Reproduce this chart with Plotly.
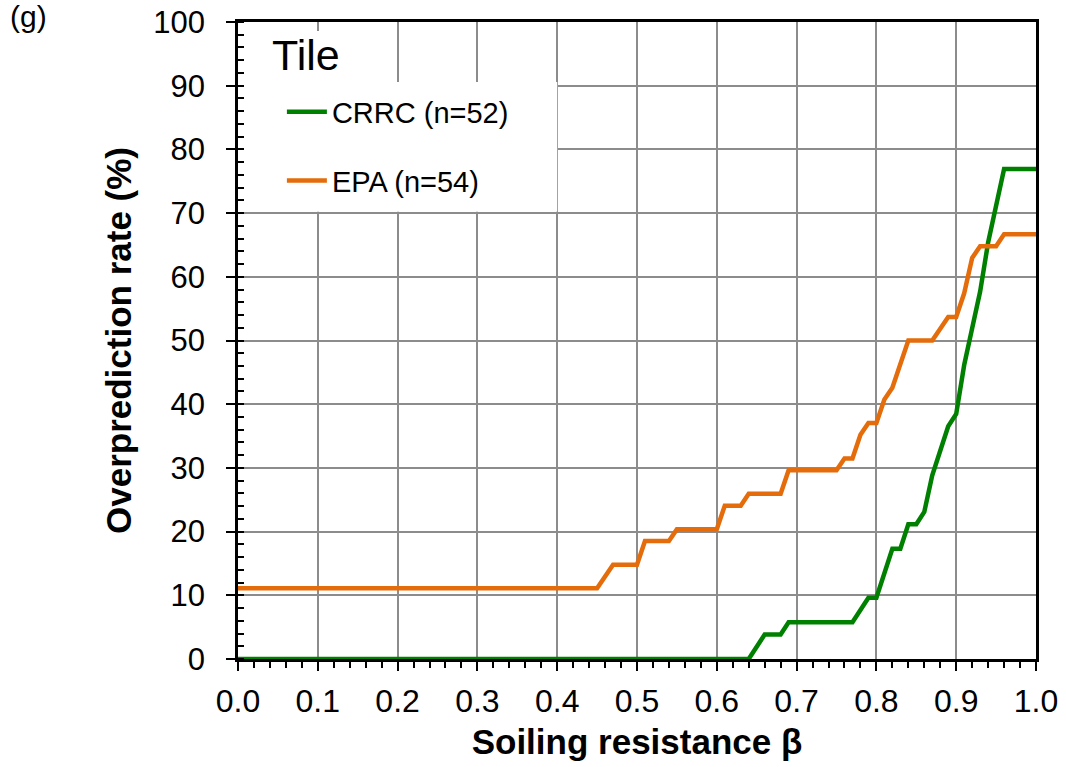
import plotly.graph_objects as go

# Step-curve corner points
crrc_x = [0.00, 0.64, 0.66, 0.68, 0.69, 0.77, 0.79, 0.80, 0.82, 0.83, 0.84, 0.85,
          0.86, 0.87, 0.88, 0.89, 0.90, 0.91, 0.92, 0.93, 0.94, 0.95, 0.96, 1.00]
crrc_y = [0, 0, 3.85, 3.85, 5.77, 5.77, 9.62, 9.62, 17.31, 17.31, 21.15, 21.15,
          23.08, 28.85, 32.69, 36.54, 38.46, 46.15, 51.92, 57.69, 65.38, 71.15, 76.92, 76.92]

epa_x = [0.00, 0.45, 0.47, 0.50, 0.51, 0.54, 0.55, 0.60, 0.61, 0.63, 0.64, 0.68,
         0.69, 0.75, 0.76, 0.77, 0.78, 0.79, 0.80, 0.81, 0.82, 0.83, 0.84, 0.87,
         0.89, 0.90, 0.91, 0.92, 0.93, 0.95, 0.96, 1.00]
epa_y = [11.11, 11.11, 14.81, 14.81, 18.52, 18.52, 20.37, 20.37, 24.07, 24.07, 25.93, 25.93,
         29.63, 29.63, 31.48, 31.48, 35.19, 37.04, 37.04, 40.74, 42.59, 46.30, 50.00, 50.00,
         53.70, 53.70, 57.41, 62.96, 64.81, 64.81, 66.67, 66.67]

series_names = ["CRRC (n=52)", "EPA (n=54)"]
series_colors = ["#008000", "#E46C0A"]

x_ticks = [0.0, 0.1, 0.2, 0.3, 0.4, 0.5, 0.6, 0.7, 0.8, 0.9, 1.0]
y_ticks = [0, 10, 20, 30, 40, 50, 60, 70, 80, 90, 100]

FONT = "Liberation Sans, Arial, sans-serif"

fig = go.Figure()
fig.add_trace(go.Scatter(x=crrc_x, y=crrc_y, mode="lines", name=series_names[0],
                         line=dict(color=series_colors[0], width=4.5),
                         legendgroup="a"))
fig.add_trace(go.Scatter(x=epa_x, y=epa_y, mode="lines", name=series_names[1],
                         line=dict(color=series_colors[1], width=4.5),
                         legendgroup="b"))

# white boxes (text box and legend background) hiding the gridlines
fig.add_shape(type="rect", xref="x", yref="y", x0=0.0, x1=0.4, y0=70.2, y1=90.6,
              fillcolor="white", line=dict(width=0), layer="between")
fig.add_shape(type="rect", xref="x", yref="y", x0=0.03, x1=0.18, y0=89, y1=98.6,
              fillcolor="white", line=dict(width=0), layer="between")

fig.add_annotation(text="Tile", xref="x", yref="y", x=0.04, y=94.8, xanchor="left",
                   yanchor="middle", showarrow=False,
                   font=dict(family=FONT, size=43, color="black"))
fig.add_annotation(text="(g)", xref="paper", yref="paper", x=-0.288, y=1.037,
                   xanchor="left", yanchor="top", showarrow=False,
                   font=dict(family=FONT, size=30, color="black"))

fig.update_layout(
    width=1066, height=767,
    margin=dict(l=238, r=30, t=22, b=108),
    paper_bgcolor="white", plot_bgcolor="white",
    font=dict(family=FONT, color="black"),
    showlegend=True,
    legend=dict(x=0.055, y=0.899, xanchor="left", yanchor="top",
                bgcolor="rgba(0,0,0,0)", font=dict(family=FONT, size=29),
                traceorder="grouped", tracegroupgap=28, itemwidth=40),
    xaxis=dict(
        range=[0, 1], tickvals=x_ticks, ticktext=[f"{v:.1f}" for v in x_ticks],
        automargin=False,
        showgrid=True, gridcolor="#8c8c8c", gridwidth=1.5,
        showline=True, linecolor="black", linewidth=2.5, mirror=True,
        ticks="outside", ticklen=9, tickwidth=2, tickcolor="black",
        tickfont=dict(family=FONT, size=32), ticklabelstandoff=3,
        minor=dict(dtick=0.02, ticks="outside", ticklen=6, tickwidth=1.5,
                   tickcolor="black", showgrid=False),
        zeroline=False,
        title=dict(text="<b>Soiling resistance β</b>", standoff=12,
                   font=dict(family=FONT, size=35)),
    ),
    yaxis=dict(
        range=[0, 100], tickvals=y_ticks,
        automargin=False,
        showgrid=True, gridcolor="#8c8c8c", gridwidth=1.5,
        showline=True, linecolor="black", linewidth=2.5, mirror=True,
        ticks="outside", ticklen=9, tickwidth=2, tickcolor="black",
        tickfont=dict(family=FONT, size=31), ticklabelstandoff=15,
        minor=dict(dtick=2, ticks="inside", ticklen=6, tickwidth=1.5,
                   tickcolor="black", showgrid=False),
        zeroline=False,
        title=dict(text="<b>Overprediction rate (%)</b>", standoff=12,
                   font=dict(family=FONT, size=35)),
    ),
)

fig.write_html("out.html")
